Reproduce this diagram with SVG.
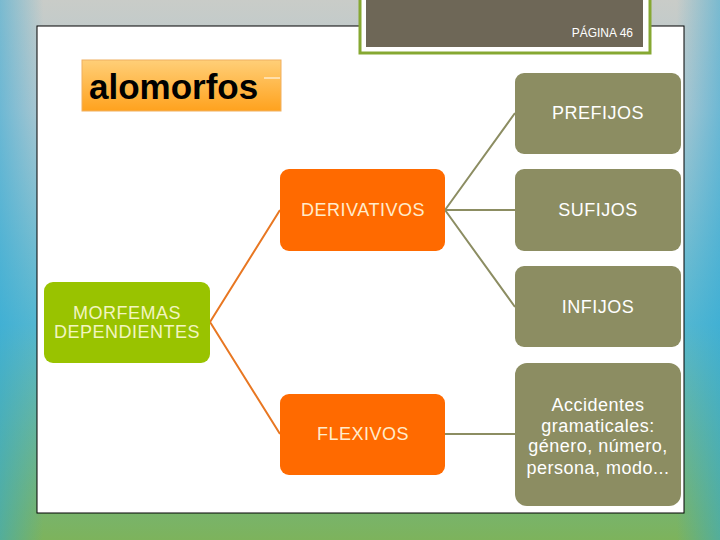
<svg xmlns="http://www.w3.org/2000/svg" width="720" height="540" viewBox="0 0 720 540">
<defs>
<linearGradient id="bg" x1="0" y1="0" x2="0" y2="1">
<stop offset="0" stop-color="#c9ccc8"/>
<stop offset="0.2" stop-color="#b0c8d0"/>
<stop offset="0.6" stop-color="#58b8d0"/>
<stop offset="1" stop-color="#7db35c"/>
</linearGradient>
<linearGradient id="side" x1="0" y1="0" x2="1" y2="0">
<stop offset="0" stop-color="#2aa8d8" stop-opacity="0.5"/>
<stop offset="0.06" stop-color="#2aa8d8" stop-opacity="0"/>
<stop offset="0.94" stop-color="#2aa8d8" stop-opacity="0"/>
<stop offset="1" stop-color="#2aa8d8" stop-opacity="0.5"/>
</linearGradient>
<linearGradient id="alo" x1="0" y1="0" x2="0" y2="1">
<stop offset="0" stop-color="#ffcf78"/>
<stop offset="1" stop-color="#ffa21e"/>
</linearGradient>
<style>
.olive{fill:#8c8d62}
.orange{fill:#ff6a00}
.t{font-family:"Liberation Sans",Arial,sans-serif;font-size:18px;letter-spacing:0.5px;text-anchor:middle}
.tw{fill:#ffffff}
.to{fill:#ffeccc}
.tg{fill:#f2f5c0}
</style>
</defs>
<rect width="720" height="540" fill="url(#bg)"/>
<rect width="720" height="540" fill="url(#side)"/>
<rect x="37" y="26" width="647" height="487" fill="#ffffff" stroke="#000000" stroke-width="1"/>
<rect x="360" y="-5" width="290" height="58" fill="#ffffff" stroke="#86a832" stroke-width="3"/>
<rect x="366" y="0" width="277" height="47" fill="#6e6757"/>
<text x="633" y="37" font-family="Liberation Sans,Arial,sans-serif" font-size="12" fill="#ffffff" text-anchor="end">PÁGINA 46</text>
<g id="alomorfos">
<rect x="82" y="60" width="199" height="51" fill="url(#alo)" stroke="#f0b060" stroke-width="1"/>
<line x1="264" y1="78" x2="280" y2="78" stroke="#ffffff" stroke-width="1"/>
<text x="89" y="99" font-family="Liberation Sans,Arial,sans-serif" font-size="35" font-weight="bold" fill="#000000">alomorfos</text>
</g>
<g id="connectors" fill="none" stroke-width="2">
<path d="M210 322 L280 210 M210 322 L280 434" stroke="#e87722"/>
<path d="M445 210 L515 113 M445 210 L515 210 M445 210 L515 307 M445 434 L515 434" stroke="#8c8d62"/>
</g>
<g id="prefijos"><rect class="olive" x="515" y="73" width="166" height="81" rx="9"/><text class="t tw" x="598" y="119">PREFIJOS</text></g>
<g id="derivativos"><rect class="orange" x="280" y="169" width="165" height="82" rx="9"/><text class="t to" x="363" y="216">DERIVATIVOS</text></g>
<g id="sufijos"><rect class="olive" x="515" y="169" width="166" height="82" rx="9"/><text class="t tw" x="598" y="216">SUFIJOS</text></g>
<g id="infijos"><rect class="olive" x="515" y="266" width="166" height="81" rx="9"/><text class="t tw" x="598" y="313">INFIJOS</text></g>
<g id="morfemas"><rect x="44" y="282" width="166" height="81" rx="9" fill="#99c300"/><text class="t tg" x="127" y="319">MORFEMAS</text><text class="t tg" x="127" y="338">DEPENDIENTES</text></g>
<g id="flexivos"><rect class="orange" x="280" y="394" width="165" height="81" rx="9"/><text class="t to" x="363" y="440">FLEXIVOS</text></g>
<g id="accidentes"><rect class="olive" x="515" y="363" width="166" height="143" rx="12"/>
<text class="t tw" x="598" y="411">Accidentes</text>
<text class="t tw" x="598" y="432">gramaticales:</text>
<text class="t tw" x="598" y="452">género, número,</text>
<text class="t tw" x="598" y="474">persona, modo...</text></g>
</svg>
